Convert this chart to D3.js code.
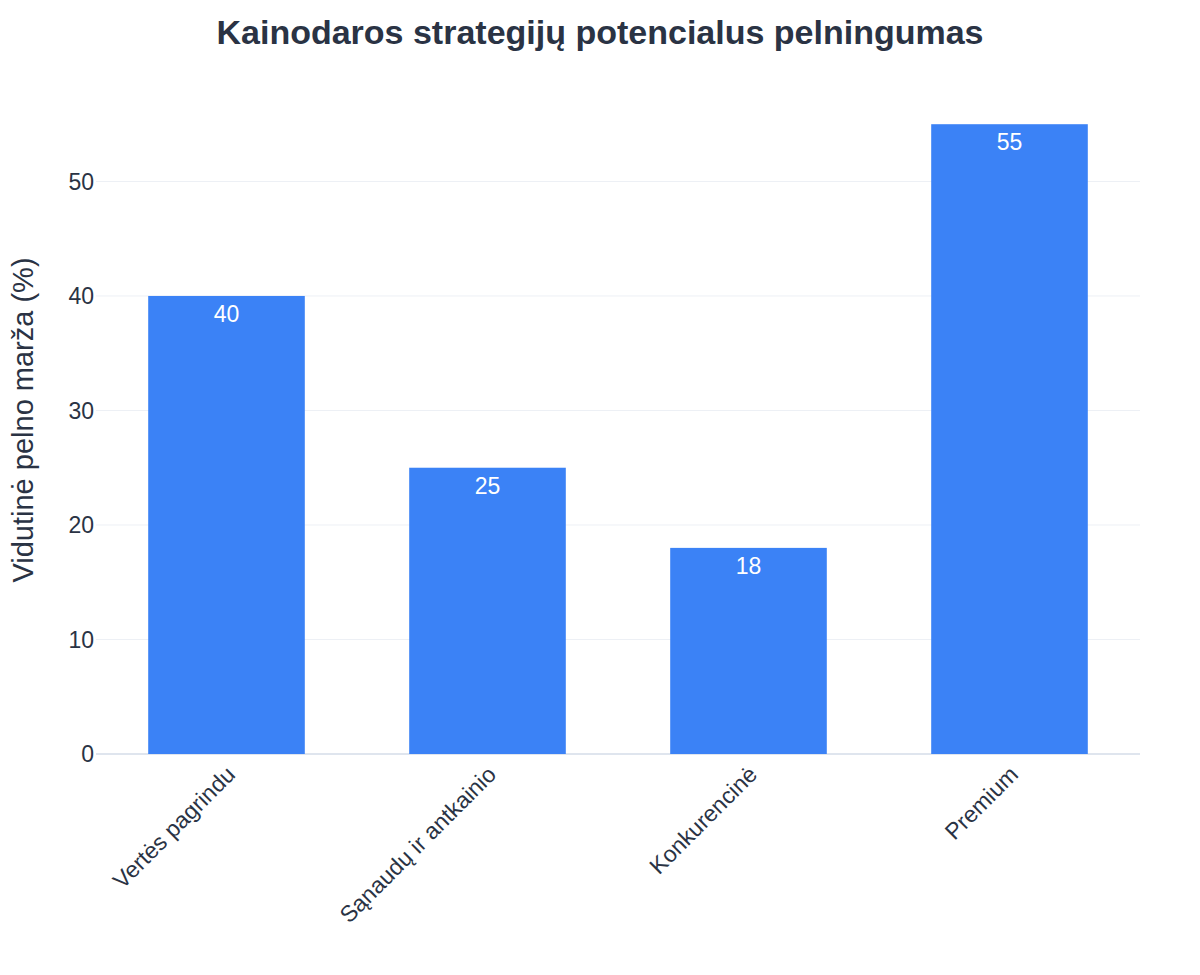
<!DOCTYPE html>
<html><head><meta charset="utf-8">
<script src="https://cdn.jsdelivr.net/npm/d3@7"></script>
<style>body{margin:0;background:#fff;font-family:"Liberation Sans",Arial,sans-serif;}</style>
</head><body>
<script>
var categories = ['Vertės pagrindu', 'Sąnaudų ir antkainio', 'Konkurencinė', 'Premium'];
var values = [40, 25, 18, 55];
var yTicks = [0, 10, 20, 30, 40, 50];

var width = 1200, height = 975;
var plotLeft = 96, plotRight = 1140, plotTop = 91, plotBottom = 754;

var svg = d3.select('body').append('svg')
    .attr('width', width).attr('height', height);

var x = d3.scaleBand().domain(categories).range([plotLeft, plotRight]).paddingInner(0.4).paddingOuter(0.2);
var y = d3.scaleLinear().domain([0, 57.9]).range([plotBottom, plotTop]);

// grid
svg.append('g').selectAll('line').data(yTicks).enter().append('line')
    .attr('x1', plotLeft).attr('x2', plotRight)
    .attr('y1', function(d) { return y(d); }).attr('y2', function(d) { return y(d); })
    .attr('stroke', function(d) { return d === 0 ? '#dfe5ee' : '#edf0f5'; })
    .attr('stroke-width', function(d) { return d === 0 ? 2 : 1; });

// y ticks
svg.append('g').selectAll('text').data(yTicks).enter().append('text')
    .attr('x', plotLeft - 2).attr('y', function(d) { return y(d); })
    .attr('dy', '0.35em').attr('text-anchor', 'end')
    .attr('font-size', 23).attr('fill', '#2a3344')
    .text(function(d) { return d; });

// bars
svg.append('g').selectAll('rect').data(values).enter().append('rect')
    .attr('x', function(d, i) { return x(categories[i]); })
    .attr('width', x.bandwidth())
    .attr('y', function(d) { return y(d); })
    .attr('height', function(d) { return plotBottom - y(d); })
    .attr('fill', '#3b82f6');

// value labels
svg.append('g').selectAll('text').data(values).enter().append('text')
    .attr('x', function(d, i) { return x(categories[i]) + x.bandwidth() / 2; })
    .attr('y', function(d) { return y(d) + 26; })
    .attr('text-anchor', 'middle').attr('font-size', 23).attr('fill', '#fff')
    .text(function(d) { return d; });

// x labels
svg.append('g').selectAll('text').data(categories).enter().append('text')
    .attr('transform', function(d) {
        return 'translate(' + (x(d) + x.bandwidth() / 2 + 10) + ',' + (plotBottom + 22) + ') rotate(-45)';
    })
    .attr('text-anchor', 'end').attr('font-size', 23).attr('fill', '#2a3344')
    .text(function(d) { return d; });

// titles
svg.append('text').attr('x', 600).attr('y', 44).attr('text-anchor', 'middle')
    .attr('font-size', 34).attr('font-weight', 'bold').attr('fill', '#2a3344')
    .text('Kainodaros strategijų potencialus pelningumas');

svg.append('text').attr('transform', 'translate(33,' + 420 + ') rotate(-90)')
    .attr('text-anchor', 'middle').attr('font-size', 29).attr('fill', '#2a3344')
    .text('Vidutinė pelno marža (%)');
</script>
</body></html>
